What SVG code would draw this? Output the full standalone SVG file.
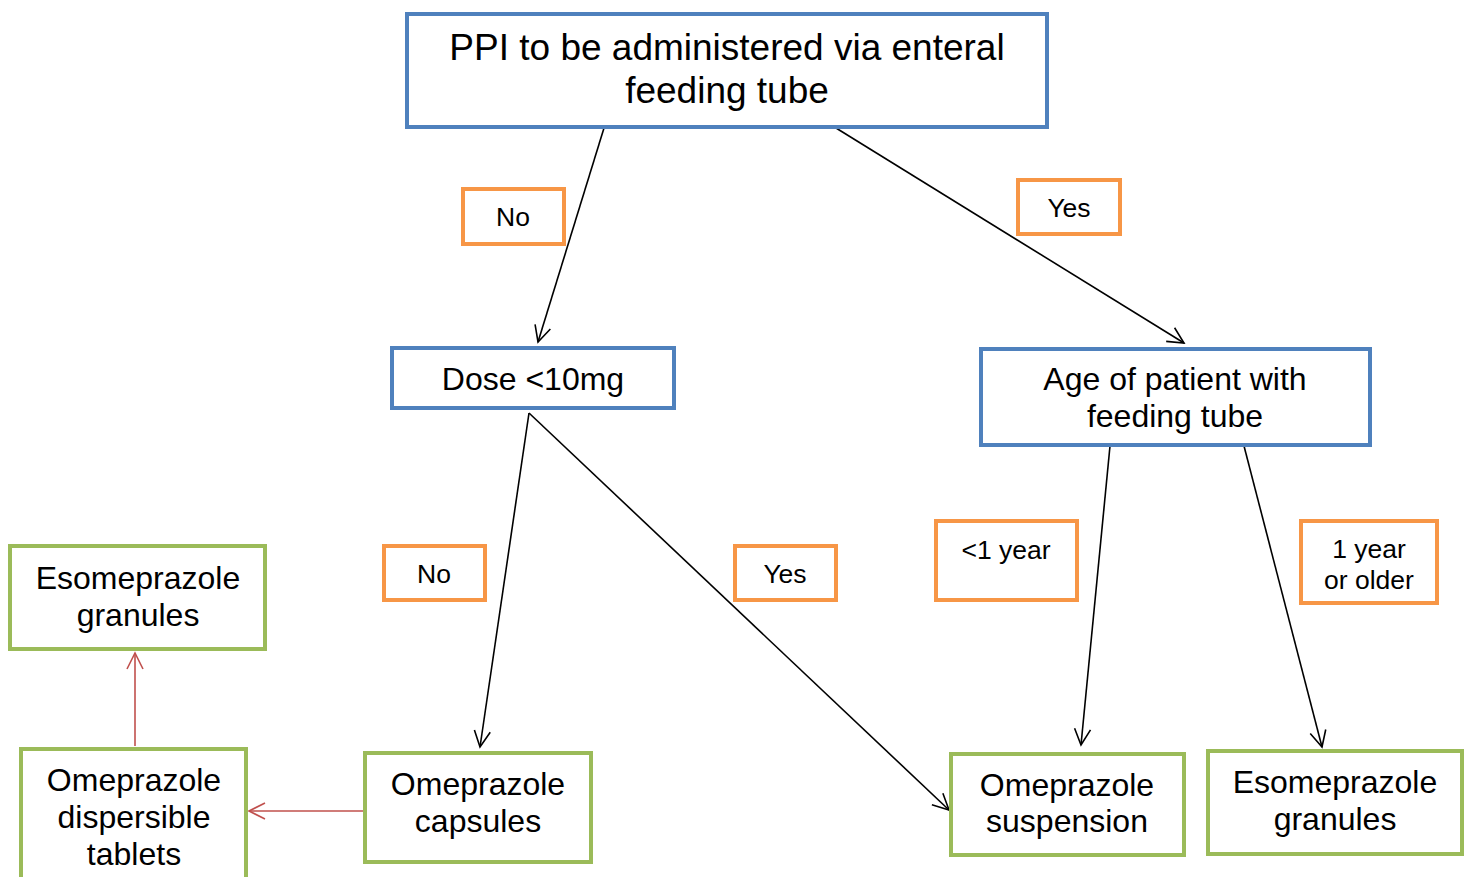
<svg xmlns="http://www.w3.org/2000/svg" width="1470" height="877" viewBox="0 0 1470 877">
<style>
text{font-family:"Liberation Sans",Arial,sans-serif;fill:#000;text-anchor:middle}
.b{fill:#fff;stroke:#4F81BD;stroke-width:4}
.g{fill:#fff;stroke:#9BBB59;stroke-width:4}
.o{fill:#fff;stroke:#F79646;stroke-width:4}
.big{font-size:37px}
.mid{font-size:32px}
.sm{font-size:26.5px}
.k{stroke:#000;stroke-width:1.6;fill:none}
.r{stroke:#C0504D;stroke-width:1.6;fill:none}
</style>
<defs>
<marker id="ak" viewBox="0 0 20 20" refX="18" refY="10" markerWidth="20" markerHeight="20" markerUnits="userSpaceOnUse" orient="auto"><path d="M2,2 L18,10 L2,18" fill="none" stroke="#000" stroke-width="1.6"/></marker>
<marker id="ar" viewBox="0 0 20 20" refX="18" refY="10" markerWidth="20" markerHeight="20" markerUnits="userSpaceOnUse" orient="auto"><path d="M2,2 L18,10 L2,18" fill="none" stroke="#C0504D" stroke-width="1.6"/></marker>
</defs>
<g id="connectors">
<line class="k" x1="604" y1="128" x2="538" y2="342" marker-end="url(#ak)"/>
<line class="k" x1="836" y1="128" x2="1184" y2="343" marker-end="url(#ak)"/>
<line class="k" x1="529" y1="413" x2="480" y2="747" marker-end="url(#ak)"/>
<line class="k" x1="529" y1="413" x2="949" y2="810" marker-end="url(#ak)"/>
<line class="k" x1="1110" y1="446" x2="1081" y2="745" marker-end="url(#ak)"/>
<line class="k" x1="1244" y1="446" x2="1322" y2="747" marker-end="url(#ak)"/>
<line class="r" x1="364" y1="811" x2="249" y2="811" marker-end="url(#ar)"/>
<line class="r" x1="135" y1="746" x2="135" y2="653" marker-end="url(#ar)"/>
</g>
<g id="n-top"><rect class="b" x="407" y="14" width="640" height="113"/><text class="big" x="727" y="60">PPI to be administered via enteral</text><text class="big" x="727" y="103">feeding tube</text></g>
<g id="n-dose"><rect class="b" x="392" y="348" width="282" height="60"/><text class="mid" x="533" y="390">Dose &lt;10mg</text></g>
<g id="n-age"><rect class="b" x="981" y="349" width="389" height="96"/><text class="mid" x="1175" y="390">Age of patient with</text><text class="mid" x="1175" y="427">feeding tube</text></g>
<g id="l-no1"><rect class="o" x="463" y="189" width="101" height="55"/><text class="sm" x="513" y="226">No</text></g>
<g id="l-yes1"><rect class="o" x="1018" y="180" width="102" height="54"/><text class="sm" x="1069" y="217">Yes</text></g>
<g id="l-no2"><rect class="o" x="384" y="546" width="101" height="54"/><text class="sm" x="434" y="583">No</text></g>
<g id="l-yes2"><rect class="o" x="735" y="546" width="101" height="54"/><text class="sm" x="785" y="583">Yes</text></g>
<g id="l-lt1"><rect class="o" x="936" y="521" width="141" height="79"/><text class="sm" x="1006" y="559">&lt;1 year</text></g>
<g id="l-ge1"><rect class="o" x="1301" y="521" width="136" height="82"/><text class="sm" x="1369" y="558">1 year</text><text class="sm" x="1369" y="589">or older</text></g>
<g id="n-eso-left"><rect class="g" x="10" y="546" width="255" height="103"/><text class="mid" x="138" y="589">Esomeprazole</text><text class="mid" x="138" y="626">granules</text></g>
<g id="n-ome-disp"><rect class="g" x="21" y="749" width="225" height="140"/><text class="mid" x="134" y="791">Omeprazole</text><text class="mid" x="134" y="828">dispersible</text><text class="mid" x="134" y="865">tablets</text></g>
<g id="n-ome-caps"><rect class="g" x="365" y="753" width="226" height="109"/><text class="mid" x="478" y="795">Omeprazole</text><text class="mid" x="478" y="832">capsules</text></g>
<g id="n-ome-susp"><rect class="g" x="951" y="754" width="233" height="101"/><text class="mid" x="1067" y="796">Omeprazole</text><text class="mid" x="1067" y="832">suspension</text></g>
<g id="n-eso-right"><rect class="g" x="1208" y="751" width="254" height="103"/><text class="mid" x="1335" y="793">Esomeprazole</text><text class="mid" x="1335" y="830">granules</text></g>
</svg>
